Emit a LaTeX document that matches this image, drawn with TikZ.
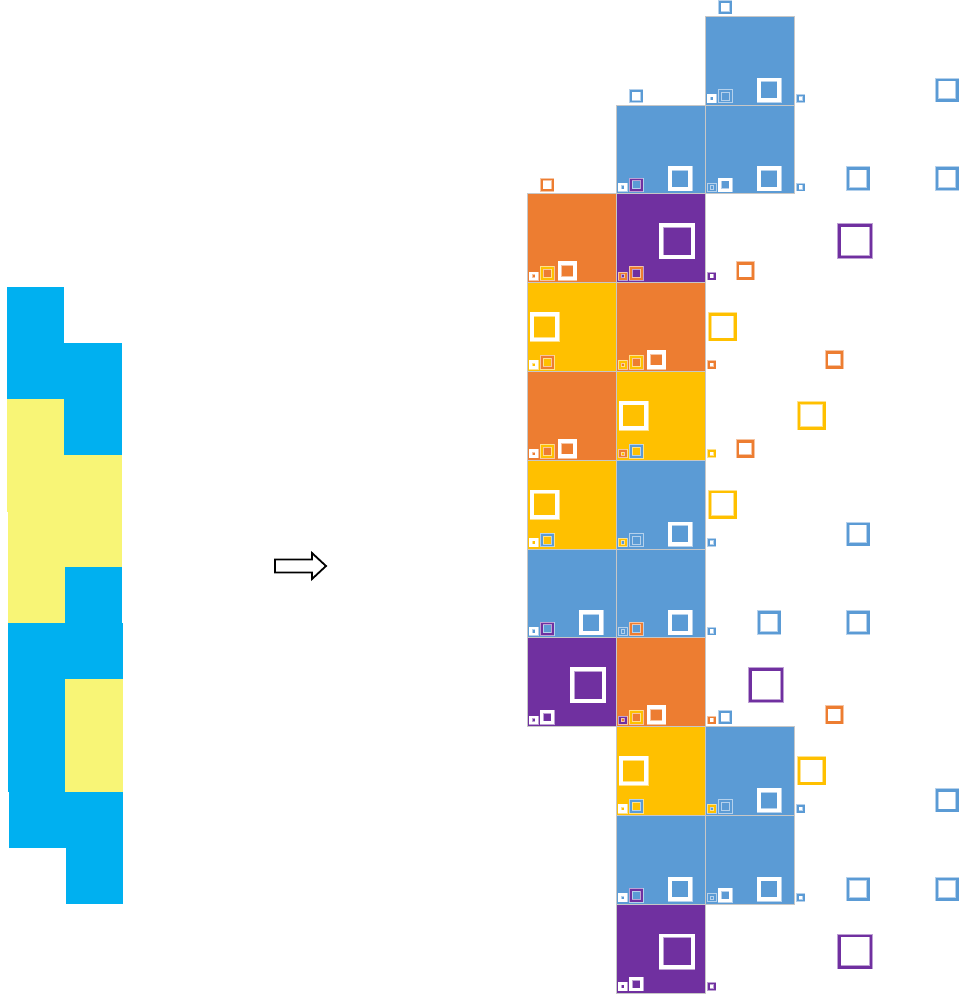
\documentclass[tikz,border=0pt]{standalone}
\usepackage{xcolor}
\usepackage{tikz}
\definecolor{skyblue}{HTML}{00B0F0}
\definecolor{paleyellow}{HTML}{F8F576}
\definecolor{colB}{HTML}{5B9BD5}
\definecolor{colO}{HTML}{ED7D31}
\definecolor{colY}{HTML}{FFC000}
\definecolor{colP}{HTML}{7030A0}

% ring square: centre x, centre y, size, ring width, ring colour, inner colour
\newcommand{\ringsq}[6]{%
  \fill[#5] ({#1-#3/2},{#2-#3/2}) rectangle ({#1+#3/2},{#2+#3/2});
  \fill[#6] ({#1-#3/2+#4},{#2-#3/2+#4}) rectangle ({#1+#3/2-#4},{#2+#3/2-#4});
  \draw[rim] ({#1-#3/2+0.2},{#2-#3/2+0.2}) rectangle ({#1+#3/2-0.2},{#2+#3/2-0.2});
  \draw[rim] ({#1-#3/2+#4},{#2-#3/2+#4}) rectangle ({#1+#3/2-#4},{#2+#3/2-#4});}
% big square offsets per kind: dx, dy, size
\newcommand{\bigB}{{64}{15}{24.5}}
\newcommand{\bigO}{{40}{11.5}{19}}
\newcommand{\bigY}{{17.5}{44.5}{29.5}}
\newcommand{\bigP}{{61}{41.5}{35.5}}
\newcommand{\bigsqdo}[7]{\ringsq{#4+#1}{#5-#2}{#3}{3.8}{#6}{#7}}
\newcommand{\bigsq}[5]{%
  \edef\bigspec{\csname big#3\endcsname}%
  \expandafter\bigsqdo\bigspec{#1}{#2}{#4}{#5}}

\begin{document}
\begin{tikzpicture}[
  x=1pt, y=-1pt,
  rim/.style={draw=white, opacity=0.55, line width=0.4pt},
  cell/.style={draw=black!22, line width=0.4pt},
  arrowshape/.style={draw=black, line width=1.8pt, fill=white, line join=miter},
]
  \useasboundingbox (0,0) rectangle (960,996);

  % input strip
  \foreach \col/\row/\shade in {0/0/skyblue, 0/1/skyblue, 1/1/skyblue, 0/2/paleyellow, 1/2/skyblue,
      0/3/paleyellow, 1/3/paleyellow, 0/4/paleyellow, 1/4/paleyellow, 0/5/paleyellow, 1/5/skyblue,
      0/6/skyblue, 1/6/skyblue, 0/7/skyblue, 1/7/paleyellow, 0/8/skyblue, 1/8/paleyellow,
      0/9/skyblue, 1/9/skyblue, 1/10/skyblue}
    \fill[\shade] ({7+0.2*\row+57*\col-0.3},{287+56.1*\row-0.3}) rectangle ++(57.6,56.7);

  \draw[arrowshape] (275,559.5) -- (312,559.5) -- (312,553) -- (326,566)
    -- (312,579) -- (312,572.5) -- (275,572.5) -- cycle;

  % coloured cells
  \foreach \col/\row/\kind in {2/0/B, 1/1/B, 2/1/B, 0/2/O, 1/2/P, 0/3/Y, 1/3/O, 0/4/O, 1/4/Y,
      0/5/Y, 1/5/B, 0/6/B, 1/6/B, 0/7/P, 1/7/O, 1/8/Y, 2/8/B, 1/9/B, 2/9/B, 1/10/P}
    \fill[cell, fill=col\kind] ({527+89*\col},{16+88.8*\row}) rectangle ++(89,88.8);

  % marks inside the cells: kind / left neighbour / lower neighbour
  \foreach \col/\row/\kind/\tr/\sr in {2/0/B/white/colB, 1/1/B/white/colP, 2/1/B/colB/white,
      0/2/O/white/colY, 1/2/P/colO/colO, 0/3/Y/white/colO, 1/3/O/colY/colY,
      0/4/O/white/colY, 1/4/Y/colO/colB, 0/5/Y/white/colB, 1/5/B/colY/colB,
      0/6/B/white/colP, 1/6/B/colB/colO, 0/7/P/white/white, 1/7/O/colP/colY,
      1/8/Y/white/colB, 2/8/B/colY/colB, 1/9/B/white/colP, 2/9/B/colB/white, 1/10/P/white/white}{
    \pgfmathsetmacro\X{527+89*\col}
    \pgfmathsetmacro\Y{16+88.8*(\row+1)}
    \ringsq{\X+6.7}{\Y-6.5}{8.5}{2.5}{\tr}{col\kind}
    \ringsq{\X+20.3}{\Y-9}{14}{3}{\sr}{col\kind}
    \bigsq{\X}{\Y}{\kind}{white}{col\kind}
  }

  % marks outside the cells
  \foreach \col/\row/\ring in {3/0/colB, 3/1/colB, 2/2/colP, 2/3/colO, 2/4/colY, 2/5/colB,
      2/6/colB, 2/7/colO, 3/8/colB, 3/9/colB, 2/10/colP}{
    \pgfmathsetmacro\X{527+89*\col}
    \pgfmathsetmacro\Y{16+88.8*(\row+1)}
    \ringsq{\X+6.7}{\Y-6.5}{8.5}{2.5}{\ring}{white}
  }
  \foreach \col/\row/\ring in {2/-1/colB, 1/0/colB, 0/1/colO, 2/7/colB}{
    \pgfmathsetmacro\X{527+89*\col}
    \pgfmathsetmacro\Y{16+88.8*(\row+1)}
    \ringsq{\X+20.3}{\Y-9}{14}{3}{\ring}{white}
  }
  \foreach \col/\row/\kind in {4/0/B, 3/1/B, 4/1/B, 2/2/O, 3/2/P, 2/3/Y, 3/3/O, 2/4/O, 3/4/Y,
      2/5/Y, 3/5/B, 2/6/B, 3/6/B, 2/7/P, 3/7/O, 3/8/Y, 4/8/B, 3/9/B, 4/9/B, 3/10/P}{
    \pgfmathsetmacro\X{527+89*\col}
    \pgfmathsetmacro\Y{16+88.8*(\row+1)}
    \bigsq{\X}{\Y}{\kind}{col\kind}{white}
  }
\end{tikzpicture}
\end{document}
